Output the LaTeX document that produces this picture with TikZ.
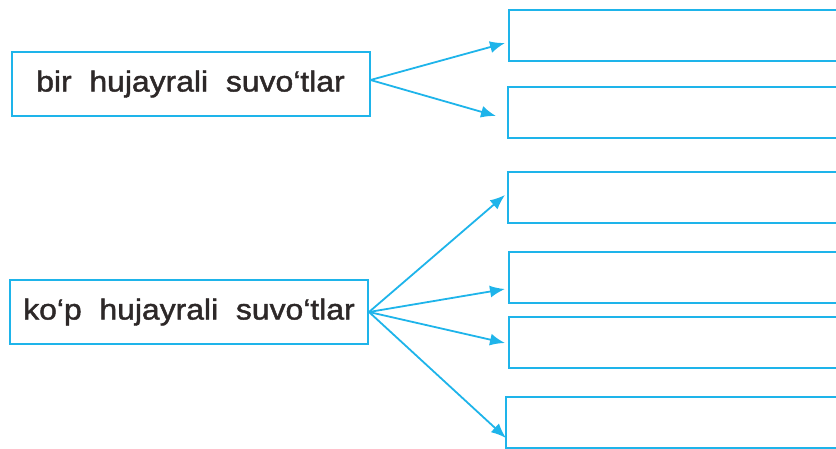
\documentclass[tikz,border=0pt]{standalone}
\usepackage{fontspec}
\setmainfont{Liberation Sans}[WordSpace=2.0, FakeStretch=1.1, FakeBold=1.5]
\usetikzlibrary{positioning,arrows.meta}
\definecolor{lineblue}{RGB}{30,180,234}
\definecolor{inkgray}{RGB}{45,40,40}
\tikzset{
group/.style = {draw=lineblue, line width=2pt, fill=white, rectangle, align=center, inner sep=0pt, minimum width=358pt, minimum height=64pt, font=\fontsize{29}{34}\selectfont, text=inkgray},
blank/.style = {draw=lineblue, line width=2pt, fill=white, rectangle, inner sep=0pt, minimum width=336pt, minimum height=51pt},
link/.style = {draw=lineblue, line width=1.8pt, ->}
}
\begin{document}
\begin{tikzpicture}[x=1pt, y=-1pt, >={Latex[length=15pt,width=12pt]}]
    \useasboundingbox (0,0) rectangle (836,448);

    \node [group] (one) at (190.5,84) {bir hujayrali suvo‘tlar};
    \node [group] (many) at (189,312) {ko‘p hujayrali suvo‘tlar};

    \node [blank, anchor=west] (r1) at (508,35.5) {};
    \node [blank, anchor=west] (r2) at (507,112) {};
    \node [blank, anchor=west] (r3) at (507,197.5) {};
    \node [blank, anchor=west] (r4) at (508,277) {};
    \node [blank, anchor=west] (r5) at (508,342.5) {};
    \node [blank, anchor=west] (r6) at (505,422.5) {};

    \draw[link] ([yshift=4pt]one.east) -- ([xshift=-3pt,yshift=-7.5pt]r1.west);
    \draw[link] ([yshift=4pt]one.east) -- ([xshift=-11pt,yshift=-4pt]r2.west);

    \draw[link] (many.east) -- ([xshift=-2pt,yshift=2.5pt]r3.west);
    \draw[link] (many.east) -- ([xshift=-3pt,yshift=-12pt]r4.west);
    \draw[link] (many.east) -- ([xshift=-3pt,yshift=-0.5pt]r5.west);
    \draw[link] (many.east) -- ([xshift=1pt,yshift=-15.5pt]r6.west);

\end{tikzpicture}
\end{document}
